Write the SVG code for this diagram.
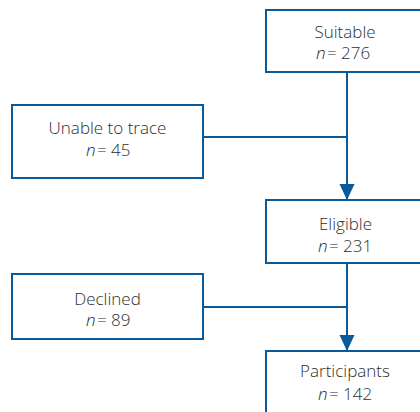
<svg xmlns="http://www.w3.org/2000/svg" width="420" height="412" viewBox="0 0 420 412">
<style>
.box{fill:#fff;stroke:#0a5a9a;stroke-width:2}
.ln{fill:none;stroke:#0a5a9a;stroke-width:2}
text{font-family:"Open Sans","Noto Sans","Liberation Sans",sans-serif;font-size:17px;font-weight:300;fill:#2e2e2e}
.c{text-anchor:middle}
.i{font-style:italic}
</style>
<defs>
<marker id="ah" markerUnits="userSpaceOnUse" markerWidth="16" markerHeight="17" refX="16" refY="8" orient="auto" viewBox="0 0 17 16">
<path d="M0,0 L17,8 L0,16 Z" fill="#0a5a9a"/>
</marker>
</defs>
<rect width="420" height="412" fill="#fff"/>
<g id="connectors">
<line class="ln" x1="347" y1="72" x2="347" y2="199" marker-end="url(#ah)"/>
<line class="ln" x1="203" y1="137" x2="347" y2="137"/>
<line class="ln" x1="347" y1="263" x2="347" y2="350" marker-end="url(#ah)"/>
<line class="ln" x1="203" y1="307" x2="347" y2="307"/>
</g>
<g id="suitable">
<rect class="box" x="266" y="10" width="162" height="62"/>
<text class="c" x="345" y="37.5">Suitable</text>
<text class="i" x="316" y="59">n</text>
<text x="327" y="59">= 276</text>
</g>
<g id="unable">
<rect class="box" x="12" y="105" width="191" height="73"/>
<text class="c" x="107.5" y="134">Unable to trace</text>
<text class="i" x="86" y="155.5">n</text>
<text x="97" y="155.5">= 45</text>
</g>
<g id="eligible">
<rect class="box" x="266" y="200" width="162" height="63"/>
<text class="c" x="345.5" y="230">Eligible</text>
<text class="i" x="318" y="251.5">n</text>
<text x="329" y="251.5">= 231</text>
</g>
<g id="declined">
<rect class="box" x="12" y="274" width="191" height="65"/>
<text class="c" x="107.5" y="304.5">Declined</text>
<text class="i" x="86" y="326">n</text>
<text x="97" y="326">= 89</text>
</g>
<g id="participants">
<rect class="box" x="266" y="351" width="162" height="70"/>
<text class="c" x="345" y="377">Participants</text>
<text class="i" x="318" y="400">n</text>
<text x="329" y="400">= 142</text>
</g>
</svg>
